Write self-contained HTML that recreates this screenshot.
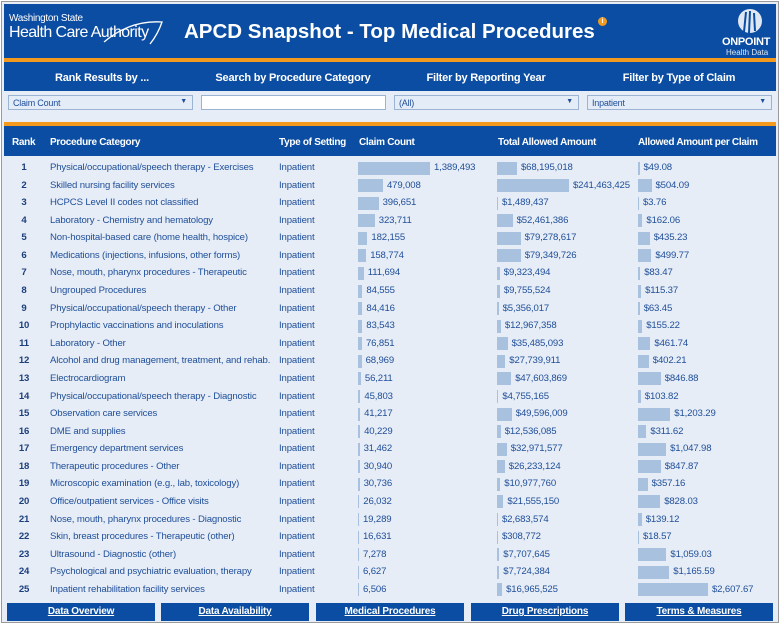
<!DOCTYPE html>
<html><head><meta charset="utf-8"><style>
*{margin:0;padding:0;box-sizing:border-box}
body{width:780px;height:624px;background:#fff;font-family:"Liberation Sans",sans-serif;position:relative;overflow:hidden}
.frame{position:absolute;left:1px;top:1px;width:778px;height:622px;border:1px solid #9a9a9a;background:#e6edf6}
.blue{position:absolute;background:#0b4da2}
.org{position:absolute;background:#f39a1e}
.t{position:absolute;color:#fff;font-weight:bold;white-space:nowrap}
.ft{position:absolute;color:#fff;font-weight:bold;font-size:11px;text-align:center;top:72px;width:190px;letter-spacing:-0.2px}
.dd{position:absolute;top:95px;height:15px;background:#e4ecf7;border:1px solid #9db3d4;font-size:9px;color:#1f4e99;padding:2px 4px;letter-spacing:-0.2px}
.dd span{position:absolute;right:5px;top:2px;font-size:7px;color:#1f4e99}
.hd{position:absolute;top:137px;color:#fff;font-weight:bold;font-size:10px;letter-spacing:-0.3px;white-space:nowrap}
.rows{position:absolute;left:0;top:160px;width:780px}
.r{height:17.58px;position:relative;font-size:9.6px;color:#1f4e99;letter-spacing:-0.15px;white-space:nowrap}
.r div{position:absolute;top:2px;line-height:12px}
.rk{left:14px;width:20px;text-align:center;font-weight:bold;color:#1c3f7c}
.pc{left:50px}
.ty{left:279px}
.c1{left:358px;display:flex}.c2{left:497px;display:flex}.c3{left:638px;display:flex}
.r div b{display:block;height:13px;background:#a7c1df;margin-top:-0.5px;margin-right:4px;font-weight:normal}
.btn{position:absolute;top:603px;height:18px;width:148px;background:#0b4da2;color:#fff;font-weight:bold;font-size:10px;text-align:center;line-height:18px;text-decoration:underline;letter-spacing:-0.2px}
</style></head><body>
<div class="frame"></div>
<div class="blue" style="left:4px;top:4px;width:772px;height:54px"></div>
<div class="org" style="left:4px;top:58px;width:772px;height:4px"></div>
<div class="blue" style="left:4px;top:62px;width:772px;height:29px"></div>
<div class="t" style="left:9px;top:13px;font-size:10px;font-weight:normal;letter-spacing:-0.3px">Washington State</div>
<div class="t" style="left:9px;top:24px;font-size:16px;font-weight:normal;letter-spacing:-0.6px">Health Care Authority</div>
<svg style="position:absolute;left:100px;top:14px" width="66" height="34"><path d="M4 28 Q30 6 62 8 Q58 20 50 30" stroke="#fff" stroke-width="1.3" fill="none"/></svg>
<div class="t" style="left:184px;top:20px;font-size:20.5px;letter-spacing:0px">APCD Snapshot - Top Medical Procedures</div>
<div style="position:absolute;left:598px;top:17px;width:9px;height:9px;border-radius:50%;background:#f39a1e;color:#fff;font-size:7px;text-align:center;line-height:9px;font-weight:bold">i</div>
<svg style="position:absolute;left:737px;top:8px" width="26" height="26"><circle cx="13" cy="13" r="12" fill="#dfe7f2"/><path d="M9 4 L7 24 M13 3 L12 25 M17 5 L18 23" stroke="#0b4da2" stroke-width="2"/></svg>
<div class="t" style="left:722px;top:36px;font-size:11px;letter-spacing:-0.3px">ONPOINT</div>
<div class="t" style="left:726px;top:48px;font-size:8px;font-weight:normal;color:#dfe7f2">Health Data</div>
<div class="ft" style="left:7px">Rank Results by ...</div>
<div class="ft" style="left:198px">Search by Procedure Category</div>
<div class="ft" style="left:391px">Filter by Reporting Year</div>
<div class="ft" style="left:584px">Filter by Type of Claim</div>
<div class="dd" style="left:8px;width:185px">Claim Count<span>▼</span></div>
<div class="dd" style="left:201px;width:185px;background:#fff">&nbsp;</div>
<div class="dd" style="left:394px;width:185px">(All)<span>▼</span></div>
<div class="dd" style="left:587px;width:185px">Inpatient<span>▼</span></div>
<div class="org" style="left:4px;top:122px;width:772px;height:4px"></div>
<div class="blue" style="left:4px;top:126px;width:772px;height:30px"></div>
<div class="hd" style="left:12px">Rank</div>
<div class="hd" style="left:50px">Procedure Category</div>
<div class="hd" style="left:279px">Type of Setting</div>
<div class="hd" style="left:359px">Claim Count</div>
<div class="hd" style="left:498px">Total Allowed Amount</div>
<div class="hd" style="left:638px">Allowed Amount per Claim</div>
<div class="rows">
<div class="r"><div class="rk">1</div><div class="pc">Physical/occupational/speech therapy - Exercises</div><div class="ty">Inpatient</div><div class="c1"><b style="width:72px"></b>1,389,493</div><div class="c2"><b style="width:20px"></b>$68,195,018</div><div class="c3"><b style="width:1.5px"></b>$49.08</div></div>
<div class="r"><div class="rk">2</div><div class="pc">Skilled nursing facility services</div><div class="ty">Inpatient</div><div class="c1"><b style="width:25px"></b>479,008</div><div class="c2"><b style="width:72px"></b>$241,463,425</div><div class="c3"><b style="width:13.5px"></b>$504.09</div></div>
<div class="r"><div class="rk">3</div><div class="pc">HCPCS Level II codes not classified</div><div class="ty">Inpatient</div><div class="c1"><b style="width:20.6px"></b>396,651</div><div class="c2"><b style="width:1px"></b>$1,489,437</div><div class="c3"><b style="width:1px"></b>$3.76</div></div>
<div class="r"><div class="rk">4</div><div class="pc">Laboratory - Chemistry and hematology</div><div class="ty">Inpatient</div><div class="c1"><b style="width:16.8px"></b>323,711</div><div class="c2"><b style="width:15.6px"></b>$52,461,386</div><div class="c3"><b style="width:4.4px"></b>$162.06</div></div>
<div class="r"><div class="rk">5</div><div class="pc">Non-hospital-based care (home health, hospice)</div><div class="ty">Inpatient</div><div class="c1"><b style="width:9.4px"></b>182,155</div><div class="c2"><b style="width:23.6px"></b>$79,278,617</div><div class="c3"><b style="width:11.7px"></b>$435.23</div></div>
<div class="r"><div class="rk">6</div><div class="pc">Medications (injections, infusions, other forms)</div><div class="ty">Inpatient</div><div class="c1"><b style="width:8.2px"></b>158,774</div><div class="c2"><b style="width:23.7px"></b>$79,349,726</div><div class="c3"><b style="width:13.4px"></b>$499.77</div></div>
<div class="r"><div class="rk">7</div><div class="pc">Nose, mouth, pharynx procedures - Therapeutic</div><div class="ty">Inpatient</div><div class="c1"><b style="width:5.8px"></b>111,694</div><div class="c2"><b style="width:2.8px"></b>$9,323,494</div><div class="c3"><b style="width:2.2px"></b>$83.47</div></div>
<div class="r"><div class="rk">8</div><div class="pc">Ungrouped Procedures</div><div class="ty">Inpatient</div><div class="c1"><b style="width:4.4px"></b>84,555</div><div class="c2"><b style="width:2.9px"></b>$9,755,524</div><div class="c3"><b style="width:3.1px"></b>$115.37</div></div>
<div class="r"><div class="rk">9</div><div class="pc">Physical/occupational/speech therapy - Other</div><div class="ty">Inpatient</div><div class="c1"><b style="width:4.4px"></b>84,416</div><div class="c2"><b style="width:1.6px"></b>$5,356,017</div><div class="c3"><b style="width:1.7px"></b>$63.45</div></div>
<div class="r"><div class="rk">10</div><div class="pc">Prophylactic vaccinations and inoculations</div><div class="ty">Inpatient</div><div class="c1"><b style="width:4.3px"></b>83,543</div><div class="c2"><b style="width:3.9px"></b>$12,967,358</div><div class="c3"><b style="width:4.2px"></b>$155.22</div></div>
<div class="r"><div class="rk">11</div><div class="pc">Laboratory - Other</div><div class="ty">Inpatient</div><div class="c1"><b style="width:4px"></b>76,851</div><div class="c2"><b style="width:10.6px"></b>$35,485,093</div><div class="c3"><b style="width:12.4px"></b>$461.74</div></div>
<div class="r"><div class="rk">12</div><div class="pc">Alcohol and drug management, treatment, and rehab.</div><div class="ty">Inpatient</div><div class="c1"><b style="width:3.6px"></b>68,969</div><div class="c2"><b style="width:8.3px"></b>$27,739,911</div><div class="c3"><b style="width:10.8px"></b>$402.21</div></div>
<div class="r"><div class="rk">13</div><div class="pc">Electrocardiogram</div><div class="ty">Inpatient</div><div class="c1"><b style="width:2.9px"></b>56,211</div><div class="c2"><b style="width:14.2px"></b>$47,603,869</div><div class="c3"><b style="width:22.7px"></b>$846.88</div></div>
<div class="r"><div class="rk">14</div><div class="pc">Physical/occupational/speech therapy - Diagnostic</div><div class="ty">Inpatient</div><div class="c1"><b style="width:2.4px"></b>45,803</div><div class="c2"><b style="width:1.4px"></b>$4,755,165</div><div class="c3"><b style="width:2.8px"></b>$103.82</div></div>
<div class="r"><div class="rk">15</div><div class="pc">Observation care services</div><div class="ty">Inpatient</div><div class="c1"><b style="width:2.1px"></b>41,217</div><div class="c2"><b style="width:14.8px"></b>$49,596,009</div><div class="c3"><b style="width:32.3px"></b>$1,203.29</div></div>
<div class="r"><div class="rk">16</div><div class="pc">DME and supplies</div><div class="ty">Inpatient</div><div class="c1"><b style="width:2.1px"></b>40,229</div><div class="c2"><b style="width:3.7px"></b>$12,536,085</div><div class="c3"><b style="width:8.4px"></b>$311.62</div></div>
<div class="r"><div class="rk">17</div><div class="pc">Emergency department services</div><div class="ty">Inpatient</div><div class="c1"><b style="width:1.6px"></b>31,462</div><div class="c2"><b style="width:9.8px"></b>$32,971,577</div><div class="c3"><b style="width:28.1px"></b>$1,047.98</div></div>
<div class="r"><div class="rk">18</div><div class="pc">Therapeutic procedures - Other</div><div class="ty">Inpatient</div><div class="c1"><b style="width:1.6px"></b>30,940</div><div class="c2"><b style="width:7.8px"></b>$26,233,124</div><div class="c3"><b style="width:22.8px"></b>$847.87</div></div>
<div class="r"><div class="rk">19</div><div class="pc">Microscopic examination (e.g., lab, toxicology)</div><div class="ty">Inpatient</div><div class="c1"><b style="width:1.6px"></b>30,736</div><div class="c2"><b style="width:3.3px"></b>$10,977,760</div><div class="c3"><b style="width:9.6px"></b>$357.16</div></div>
<div class="r"><div class="rk">20</div><div class="pc">Office/outpatient services - Office visits</div><div class="ty">Inpatient</div><div class="c1"><b style="width:1.3px"></b>26,032</div><div class="c2"><b style="width:6.4px"></b>$21,555,150</div><div class="c3"><b style="width:22.2px"></b>$828.03</div></div>
<div class="r"><div class="rk">21</div><div class="pc">Nose, mouth, pharynx procedures - Diagnostic</div><div class="ty">Inpatient</div><div class="c1"><b style="width:1px"></b>19,289</div><div class="c2"><b style="width:1px"></b>$2,683,574</div><div class="c3"><b style="width:3.7px"></b>$139.12</div></div>
<div class="r"><div class="rk">22</div><div class="pc">Skin, breast procedures - Therapeutic (other)</div><div class="ty">Inpatient</div><div class="c1"><b style="width:1px"></b>16,631</div><div class="c2"><b style="width:1px"></b>$308,772</div><div class="c3"><b style="width:1px"></b>$18.57</div></div>
<div class="r"><div class="rk">23</div><div class="pc">Ultrasound - Diagnostic (other)</div><div class="ty">Inpatient</div><div class="c1"><b style="width:1px"></b>7,278</div><div class="c2"><b style="width:2.3px"></b>$7,707,645</div><div class="c3"><b style="width:28.4px"></b>$1,059.03</div></div>
<div class="r"><div class="rk">24</div><div class="pc">Psychological and psychiatric evaluation, therapy</div><div class="ty">Inpatient</div><div class="c1"><b style="width:1px"></b>6,627</div><div class="c2"><b style="width:2.3px"></b>$7,724,384</div><div class="c3"><b style="width:31.3px"></b>$1,165.59</div></div>
<div class="r"><div class="rk">25</div><div class="pc">Inpatient rehabilitation facility services</div><div class="ty">Inpatient</div><div class="c1"><b style="width:1px"></b>6,506</div><div class="c2"><b style="width:5.1px"></b>$16,965,525</div><div class="c3"><b style="width:70px"></b>$2,607.67</div></div>
</div>
<div class="btn" style="left:7px">Data Overview</div>
<div class="btn" style="left:161px">Data Availability</div>
<div class="btn" style="left:316px">Medical Procedures</div>
<div class="btn" style="left:471px">Drug Prescriptions</div>
<div class="btn" style="left:625px">Terms &amp; Measures</div>
</body></html>
